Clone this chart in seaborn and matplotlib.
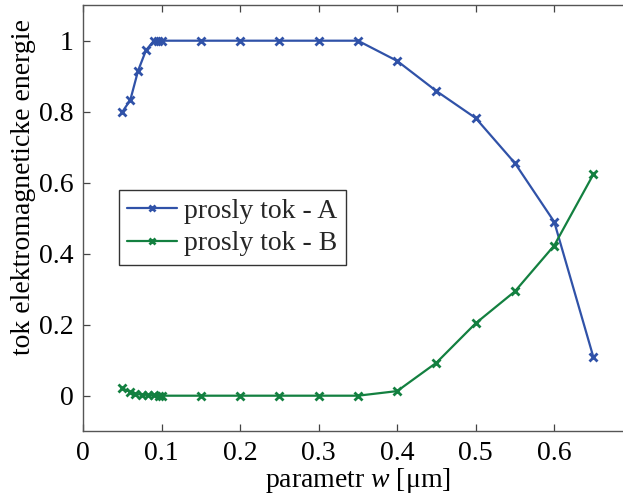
import matplotlib
matplotlib.use("Agg")
import matplotlib.pyplot as plt
import seaborn as sns
import pandas as pd

# ---- data ----
x_a = [0.05, 0.06, 0.07, 0.08, 0.09, 0.095, 0.1, 0.15, 0.2, 0.25, 0.3, 0.35,
       0.4, 0.45, 0.5, 0.55, 0.6, 0.65]
y_a = [0.80, 0.833, 0.916, 0.973, 1.0, 1.0, 1.0, 1.0, 1.0, 1.0, 1.0, 1.0,
       0.943, 0.858, 0.782, 0.655, 0.490, 0.108]
x_b = [0.05, 0.06, 0.066, 0.075, 0.083, 0.09, 0.096, 0.1, 0.15, 0.2, 0.25, 0.3,
       0.35, 0.4, 0.45, 0.5, 0.55, 0.6, 0.65]
y_b = [0.021, 0.010, 0.005, 0.003, 0.002, 0.001, 0.0, 0.0, 0.0, 0.0, 0.0, 0.0,
       0.0, 0.013, 0.093, 0.204, 0.294, 0.423, 0.624]
series_names = ["prosly tok - A", "prosly tok - B"]
x_ticks = [0, 0.1, 0.2, 0.3, 0.4, 0.5, 0.6]
x_tick_labels = ["0", "0.1", "0.2", "0.3", "0.4", "0.5", "0.6"]
y_ticks = [0, 0.2, 0.4, 0.6, 0.8, 1]
y_tick_labels = ["0", "0.2", "0.4", "0.6", "0.8", "1"]
x_label = "parametr $w$ [μm]"
y_label = "tok elektromagneticke energie"

colors = ["#3052a8", "#138040"]

df = pd.concat([
    pd.DataFrame({"w": x_a, "tok": y_a, "serie": series_names[0]}),
    pd.DataFrame({"w": x_b, "tok": y_b, "serie": series_names[1]}),
], ignore_index=True)

sns.set_theme(style="white")
plt.rcParams["font.family"] = ["Liberation Serif", "DejaVu Serif"]
plt.rcParams["mathtext.fontset"] = "custom"
plt.rcParams["mathtext.rm"] = "Liberation Serif"
plt.rcParams["mathtext.it"] = "Liberation Serif:italic"

FS = 20

fig = plt.figure(figsize=(6.23, 4.97), dpi=100)
ax = fig.add_axes([83.2 / 623, (497 - 431.2) / 497, 549.5 / 623, 426 / 497])

sns.lineplot(data=df, x="w", y="tok", hue="serie", palette=colors,
             marker="x", markersize=6, markeredgewidth=2.0, linewidth=1.6,
             sort=False, estimator=None, ax=ax, legend=True)
for ln in ax.lines:
    ln.set_markeredgecolor(ln.get_color())
    ln.set_linestyle("-")

ax.set_xlim(0, 0.7)
ax.set_ylim(-0.1, 1.1)
ax.set_xticks(x_ticks)
ax.set_xticklabels(x_tick_labels)
ax.set_yticks(y_ticks)
ax.set_yticklabels(y_tick_labels)
ax.tick_params(direction="in", length=5, width=0.9, color="#444444",
               labelsize=FS, labelcolor="black", top=True, right=True,
               bottom=True, left=True, pad=7)
for sp in ax.spines.values():
    sp.set_visible(True)
    sp.set_color("#555555")
    sp.set_linewidth(1.0)

ax.set_xlabel(x_label, fontsize=FS, color="black", labelpad=0)
ax.set_ylabel(y_label, fontsize=FS, color="black")
ax.yaxis.set_label_coords(-0.086, 0.573)

handles, labels = ax.get_legend_handles_labels()
for h in handles:
    h.set_markeredgecolor(h.get_color())
    h.set_linestyle("-")
leg = ax.legend(handles, labels, loc="upper left",
                bbox_to_anchor=(0.065, 0.566), fontsize=FS,
                frameon=True, fancybox=False, edgecolor="#333333",
                framealpha=1, handlelength=1.8, handletextpad=0.25,
                borderpad=0.3, labelspacing=0.25, borderaxespad=0)
leg.get_frame().set_linewidth(1.0)
for h in leg.legend_handles:
    h.set_markersize(5)
    h.set_markeredgecolor(h.get_color())
    h.set_linestyle("-")

fig.savefig("out.png", dpi=100)
